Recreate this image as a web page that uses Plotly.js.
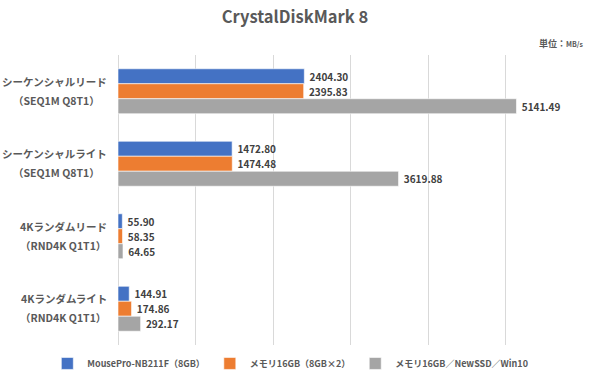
<!DOCTYPE html>
<html><head><meta charset="utf-8">
<script src="https://cdn.plot.ly/plotly-3.0.1.min.js"></script>
<style>html,body{margin:0;padding:0;background:#fff}#chart{width:590px;height:376px}</style>
</head><body><div id="chart"></div>
<script>
const categories = ['SEQ1M Q8T1 Read', 'SEQ1M Q8T1 Write', 'RND4K Q1T1 Read', 'RND4K Q1T1 Write'];
const catLine1 = ['シーケンシャルリード', 'シーケンシャルライト', '4Kランダムリード', '4Kランダムライト'];
const catLine2 = ['（SEQ1M Q8T1）', '（SEQ1M Q8T1）', '（RND4K Q1T1）', '（RND4K Q1T1）'];
const seriesNames = ['MousePro-NB211F（8GB）', 'メモリ16GB（8GB×2）', 'メモリ16GB／NewSSD／Win10'];
const mousePro = [2404.30, 1472.80, 55.90, 144.91];
const mem16 = [2395.83, 1474.48, 58.35, 174.86];
const mem16ssd = [5141.49, 3619.88, 64.65, 292.17];
const xTicks = [0, 1000, 2000, 3000, 4000, 5000, 6000];

const colors = ['#4472C4', '#ED7D31', '#A5A5A5'];
const FONT = '"Noto Sans CJK JP", "Noto Sans", sans-serif';
const series = [mousePro, mem16, mem16ssd];

const traces = series.map((vals, i) => ({
  type: 'bar', orientation: 'h', name: seriesNames[i],
  y: categories, x: vals,
  marker: {color: colors[i], line: {color: '#ffffff', width: 0.6}},
  text: vals.map(v => v.toFixed(2)),
  texttemplate: ' %{text}',
  textposition: 'outside', cliponaxis: false,
  textfont: {family: FONT, size: 10, color: '#404040', weight: 'bold'},
  hoverinfo: 'skip'
}));

const line2Shift = [-62, -62, -55, -55];
const annotations = [];
categories.forEach((c, i) => {
  annotations.push({xref: 'paper', yref: 'y', x: 0, y: c, xanchor: 'right', yanchor: 'middle',
    xshift: -9, yshift: 10, showarrow: false, text: catLine1[i],
    font: {family: FONT, size: 10.5, color: '#595959', weight: 'bold'}});
  annotations.push({xref: 'paper', yref: 'y', x: 0, y: c, xanchor: 'center', yanchor: 'middle',
    xshift: line2Shift[i], yshift: -9, showarrow: false, text: catLine2[i],
    font: {family: FONT, size: 10.5, color: '#595959', weight: 'bold'}});
});
annotations.push({xref: 'paper', yref: 'paper', x: 1, y: 1, xanchor: 'right', yanchor: 'middle',
  xshift: 2, yshift: 11.5, showarrow: false,
  text: '単位：<span style="font-size:7px">MB/s</span>',
  font: {family: FONT, size: 9, color: '#595959', weight: 'bold'}});

const layout = {
  width: 590, height: 376,
  margin: {l: 118, r: 7, t: 54.5, b: 30.5, autoexpand: false},
  paper_bgcolor: '#ffffff', plot_bgcolor: '#ffffff',
  title: {text: 'CrystalDiskMark 8', xref: 'container', yref: 'container', x: 0.5, y: 1 - 17.5/376,
    xanchor: 'center', yanchor: 'middle',
    font: {family: FONT, size: 16.5, color: '#595959', weight: 'bold'}},
  barmode: 'group', bargap: 0.38, bargroupgap: 0,
  xaxis: {range: [0, 6000], tickvals: xTicks, showticklabels: false, showgrid: true,
    gridcolor: '#d9d9d9', gridwidth: 1, zeroline: true, zerolinecolor: '#d9d9d9', zerolinewidth: 1,
    showline: false, ticks: ''},
  yaxis: {type: 'category', autorange: 'reversed', showticklabels: false, showgrid: false,
    zeroline: false, showline: false, ticks: ''},
  showlegend: true,
  legend: {orientation: 'h', xref: 'paper', yref: 'paper', x: -0.152, y: -(364 - 345.5) / 291,
    xanchor: 'left', yanchor: 'middle', traceorder: 'normal', tracegroupgap: 0,
    font: {family: FONT, size: 9, color: '#595959', weight: 'bold'}, itemwidth: 30},
  annotations: annotations
};

Plotly.newPlot('chart', traces, layout, {displayModeBar: false, staticPlot: true});
</script></body></html>
